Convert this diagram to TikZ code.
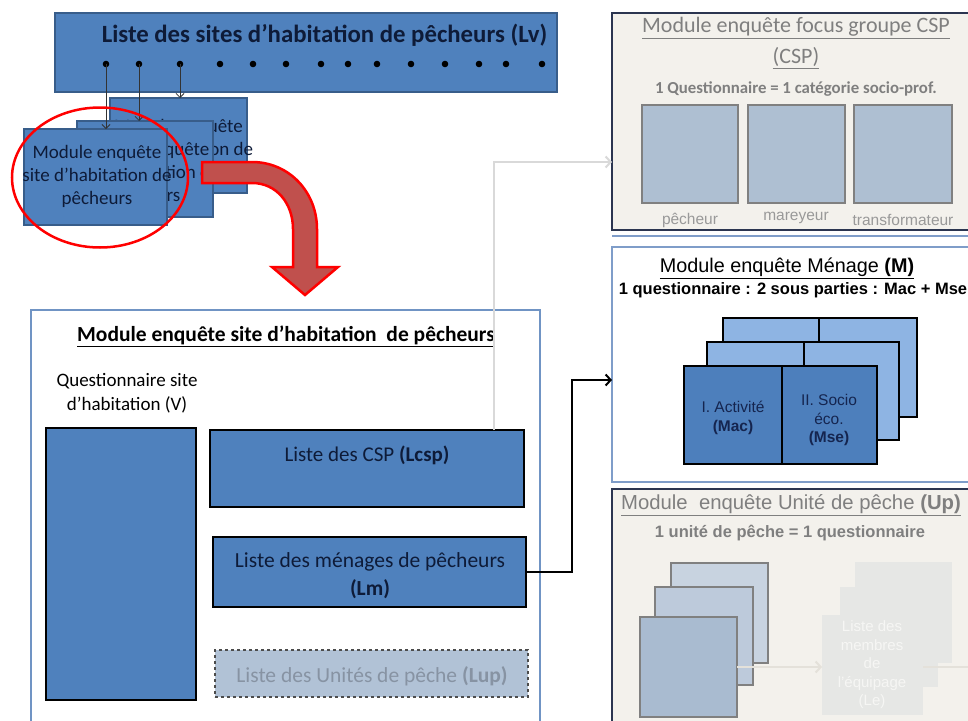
\documentclass[tikz,border=0pt]{standalone}
\usepackage{fontspec}
\setmainfont{Carlito}
\newfontfamily\arial{Liberation Sans}
\usetikzlibrary{arrows.meta}
\definecolor{obl}{HTML}{4F81BD}
\definecolor{obd}{HTML}{385D8A}
\definecolor{navytxt}{HTML}{0E1B38}
\definecolor{bigbord}{HTML}{7094C4}
\definecolor{menbord}{HTML}{7F9DC9}
\definecolor{beige}{HTML}{F3F1EC}
\definecolor{navyb}{HTML}{2B3550}
\definecolor{redfill}{HTML}{C0504D}
\definecolor{lupfill}{HTML}{B1C2D6}
\definecolor{luptxt}{HTML}{8793A3}
\definecolor{greyline}{HTML}{D9D9D9}
\definecolor{gtxt}{HTML}{7F7F7F}
\definecolor{gtxtl}{HTML}{999999}
\definecolor{cspsq}{HTML}{AEBFD2}
\definecolor{menback}{HTML}{8EB4E3}
\definecolor{menfront}{HTML}{4D7FBC}
\definecolor{mentxt}{HTML}{15254F}
\definecolor{upback}{HTML}{C8D3E0}
\definecolor{upmid}{HTML}{BDCADB}
\definecolor{upfront}{HTML}{A9BBD0}
\definecolor{fbox}{HTML}{E6E7E5}
\definecolor{ftxt}{HTML}{F6F6F4}
\definecolor{fline}{HTML}{E4E1DA}
\tikzset{
  nw/.style={anchor=north west, inner sep=0pt, outer sep=0pt},
  bluebox/.style={nw, fill=obl, draw=obd, line width=1.2pt},
  listbox/.style={nw, fill=obl, draw=black, line width=1.8pt},
  txt/.style={inner sep=0pt, align=center},
  stxt/.style={txt, text=navytxt, font=\fontsize{19}{23}\selectfont},
  dotarrow/.style={draw=black!80, line width=0.8pt, -{Straight Barb[length=4pt,width=8pt]}},
  greyconn/.style={draw=greyline, line width=2pt, -{Straight Barb[length=5pt,width=11pt]}},
  blackconn/.style={draw=black, line width=2pt, -{Straight Barb[length=5pt,width=11pt]}},
  modbox/.style={nw, fill=beige, draw=navyb, line width=1.3pt},
  sqbox/.style={nw, draw=black!50, line width=1.2pt},
  menb/.style={nw, draw=black, line width=1.5pt},
  fbx/.style={nw, fill=fbox},
}
\begin{document}
\begin{tikzpicture}[x=1pt,y=-1pt]
\clip (0,0) rectangle (968,720);
\fill[white] (0,0) rectangle (968,720);

% ---------- top list bar
\node[bluebox, minimum width=502pt, minimum height=79pt] (lv) at (55,13) {};
\node[txt, text=navytxt, font=\bfseries\fontsize{24.8}{28}\selectfont] (lvt) at (324.5,35) {Liste des sites d’habitation de pêcheurs (Lv)};
\foreach \x [count=\i] in {106,139,180,220,253,286,321,348,377,411,445,479,506,542}{
  \coordinate (d\i) at (\x,64);
  \fill[black] (d\i) circle (3.3pt);
}

% ---------- stacked modules
\node[bluebox, minimum width=137pt, minimum height=95pt] (s3) at (110,98) {};
\node[stxt] (s3t) at (178.5,150) {Module enquête\\site d’habitation de\\pêcheurs};
\node[bluebox, minimum width=136pt, minimum height=96pt] (s2) at (77,121) {};
\node[stxt] (s2t) at (145,173) {Module enquête\\site d’habitation de\\pêcheurs};
\node[bluebox, minimum width=143pt, minimum height=96pt] (s1) at (24,129) {};
\node[stxt] (s1t) at (97,176) {Module enquête\\site d’habitation de\\pêcheurs};

\draw[dotarrow] (d1) -- (d1 |- s1.north);
\draw[dotarrow] (d2) -- (d2 |- s2.north);
\draw[dotarrow] (d3) -- (d3 |- s3.north);

% red curved arrow
\draw[fill=redfill, draw=red, line width=2.5pt]
  (202,162) -- (252,162) .. controls (289,162) and (317,192) .. (317,229)
  -- (317,267) -- (338,267) -- (305,295) -- (272,267) -- (293,267) -- (293,229)
  .. controls (293,204) and (277,183) .. (252,183) -- (202,183) -- cycle;

% red ellipse
\draw[red, line width=2.5pt] (100,177.5) ellipse [x radius=88, y radius=70];

% ---------- right column modules
\node[modbox, minimum width=400pt, minimum height=217pt] (csp) at (612,13) {};
\draw[menbord, line width=1.5pt] (612,236) -- (968,236);
\node[txt, text=gtxt, font=\fontsize{22}{26}\selectfont] (cspt) at (796,28) {\underline{Module enquête focus groupe CSP}};
\node[txt, text=gtxt, font=\fontsize{22}{26}\selectfont] (cspt2) at (796,58) {\underline{(CSP)}};
\node[txt, text=gtxt, font=\bfseries\fontsize{16.8}{20}\selectfont] (cspt3) at (796,89) {1 Questionnaire = 1 catégorie socio-prof.};
\node[sqbox, fill=cspsq, minimum width=96pt, minimum height=98pt] (q1) at (642,105) {};
\node[sqbox, fill=cspsq, minimum width=97pt, minimum height=98pt] (q2) at (748,105) {};
\node[sqbox, fill=cspsq, minimum width=98pt, minimum height=98pt] (q3) at (854,105) {};
\node[txt, text=gtxtl, font=\arial\fontsize{15.5}{18}\selectfont] (q1l) at (690,220) {pêcheur};
\node[txt, text=gtxtl, font=\arial\fontsize{15.5}{18}\selectfont] (q2l) at (796,218) {mareyeur};
\node[txt, text=gtxtl, font=\arial\fontsize{15.5}{18}\selectfont] (q3l) at (903,220) {transformateur};

\node[nw, fill=white, draw=menbord, line width=1.5pt, minimum width=400pt, minimum height=235pt] (men) at (612,247) {};
\node[txt, font=\arial\fontsize{19.8}{23}\selectfont] (ment) at (787,268) {\underline{Module enquête Ménage \textbf{(M)}}};
\node[txt, font=\arial\bfseries\fontsize{16.5}{19}\selectfont] (ment2) at (793,290) {1 questionnaire : 2 sous parties : Mac + Mse};
\node[menb, fill=menback, minimum width=96pt, minimum height=99pt] (mb1) at (723,318) {};
\node[menb, fill=menback, minimum width=98pt, minimum height=99pt] (mb2) at (819,318) {};
\node[menb, fill=menback, minimum width=97pt, minimum height=98pt] (mm1) at (707,342) {};
\node[menb, fill=menback, minimum width=95pt, minimum height=98pt] (mm2) at (804,342) {};
\node[menb, fill=menfront, minimum width=98pt, minimum height=98pt] (mf1) at (684,366) {};
\node[menb, fill=menfront, minimum width=95pt, minimum height=98pt] (mf2) at (782,366) {};
\node[txt, text=mentxt, font=\arial\fontsize{15.5}{18.5}\selectfont] (mf1t) at (733,418) {I. Activité\\\textbf{(Mac)}};
\node[txt, text=mentxt, font=\arial\fontsize{15.5}{18.5}\selectfont] (mf2t) at (829,420) {II. Socio\\éco.\\\textbf{(Mse)}};

\node[modbox, minimum width=400pt, minimum height=260pt] (up) at (612,489) {};
\node[txt, text=gtxt, font=\arial\fontsize{20.3}{24}\selectfont] (upt) at (791,505) {\underline{Module \ enquête Unité de pêche \textbf{(Up)}}};
\node[txt, text=gtxt, font=\arial\bfseries\fontsize{16.5}{19}\selectfont] (upt2) at (790,533) {1 unité de pêche = 1 questionnaire};
\node[sqbox, fill=upback, minimum width=97pt, minimum height=100pt] (ub) at (671,563) {};
\node[sqbox, fill=upmid, minimum width=98pt, minimum height=98pt] (um) at (655,587) {};
\node[sqbox, fill=upfront, minimum width=97pt, minimum height=100pt] (uf) at (640,617) {};
\node[fbx, minimum width=97pt, minimum height=101pt] (le3) at (855,562) {};
\node[fbx, minimum width=98pt, minimum height=100pt] (le2) at (840,587) {};
\node[fbx, minimum width=101pt, minimum height=100pt] (le1) at (822,615) {};
\node[txt, text=ftxt, font=\arial\fontsize{15}{18.5}\selectfont] (le1t) at (872,665) {Liste des\\membres\\de\\l’équipage\\(Le)};
\draw[draw=fline, line width=2pt, -{Straight Barb[length=5pt,width=11pt]}] (uf.east) -- (uf.east -| le1.west);
\draw[draw=fline, line width=2pt] (uf.east -| le1.east) -- ++(50,0);

% ---------- bottom-left module
\node[nw, draw=bigbord, line width=1.5pt, minimum width=509pt, minimum height=440pt] (mod) at (31,310) {};
\node[txt, font=\bfseries\fontsize{21.5}{25}\selectfont] (modt) at (286,336) {\underline{Module enquête site d’habitation \ de pêcheurs}};
\node[txt, font=\fontsize{19}{24}\selectfont] (vt) at (127,393) {Questionnaire site\\d’habitation (V)};
\node[listbox, minimum width=150pt, minimum height=272pt] (v) at (46,428) {};
\node[listbox, minimum width=314pt, minimum height=77pt] (lcsp) at (210,430) {};
\node[txt, text=navytxt, font=\fontsize{21}{25}\selectfont] (lcspt) at (367,455) {Liste des CSP \textbf{(Lcsp)}};
\node[listbox, minimum width=313pt, minimum height=70pt] (lm) at (213,537) {};
\node[txt, text=navytxt, font=\fontsize{21.5}{28}\selectfont] (lmt) at (370,576) {Liste des ménages de pêcheurs\\\textbf{(Lm)}};
\node[nw, fill=lupfill, draw=black!70, dashed, line width=1.5pt, minimum width=313pt, minimum height=47pt] (lup) at (215,650) {};
\node[txt, text=luptxt, font=\fontsize{21.5}{25}\selectfont] (lupt) at (372,676) {Liste des Unités de pêche \textbf{(Lup)}};

% ---------- connectors
\draw[greyconn] ([xshift=-30pt]lcsp.north east) |- ([yshift=68pt]csp.south west);
\draw[blackconn] (lm.east) -- ++(46,0) |- ([yshift=-15.5pt]men.west);
\end{tikzpicture}
\end{document}
